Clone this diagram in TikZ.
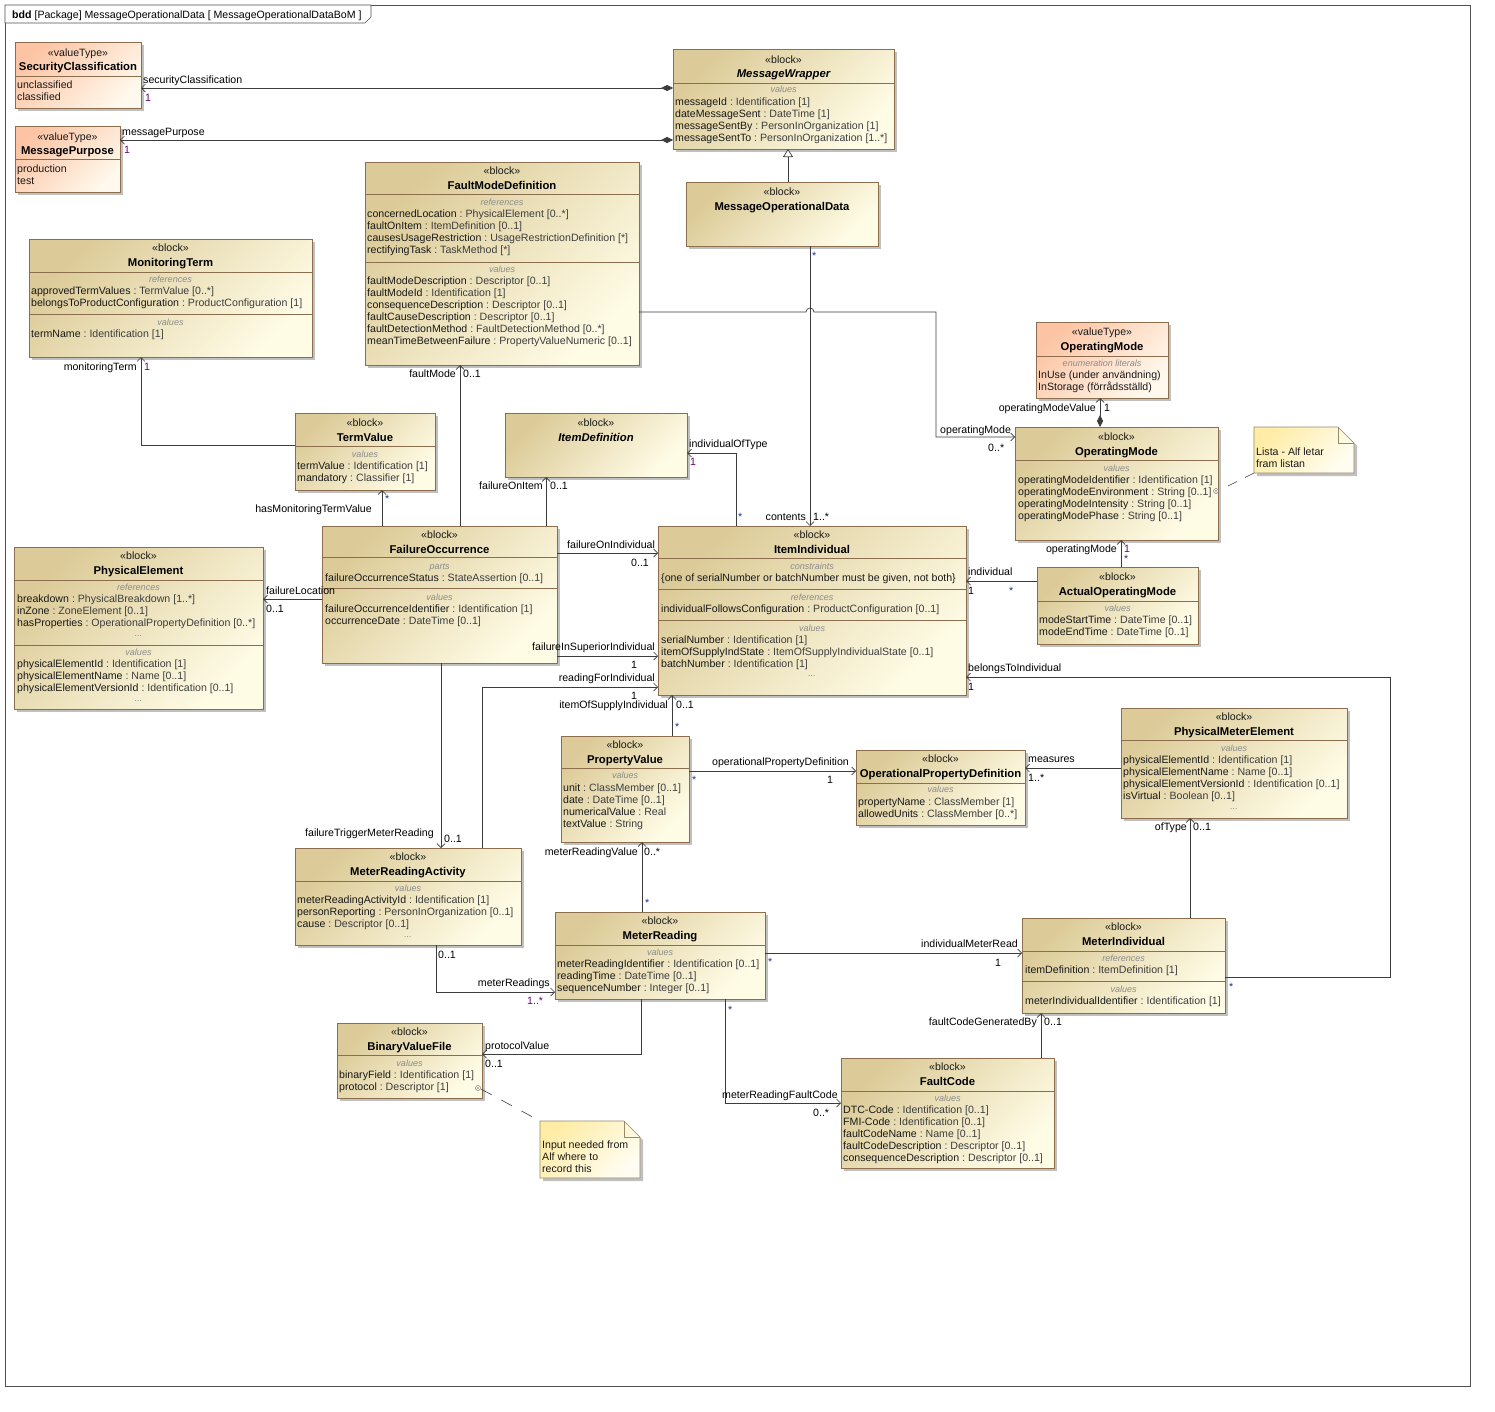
\documentclass[tikz,border=0pt]{standalone}
\usepackage{fontspec}
\setmainfont{Liberation Sans}
\usetikzlibrary{arrows.meta,shadows}
\definecolor{blkA}{RGB}{220,203,152}
\definecolor{blkB}{RGB}{255,252,230}
\definecolor{vtA}{RGB}{252,196,164}
\definecolor{vtB}{RGB}{255,248,236}
\definecolor{nA}{RGB}{255,236,165}
\definecolor{nB}{RGB}{255,253,242}
\definecolor{bordc}{RGB}{140,110,78}
\definecolor{nbord}{RGB}{150,138,105}
\definecolor{shadc}{RGB}{192,192,192}
\definecolor{linec}{RGB}{60,60,60}
\definecolor{namec}{RGB}{25,25,25}
\definecolor{typec}{RGB}{62,62,62}
\definecolor{sectc}{RGB}{140,140,140}
\definecolor{multp}{RGB}{110,0,110}
\definecolor{multb}{RGB}{30,50,140}
\definecolor{framec}{RGB}{80,80,80}
\newcommand\fs{\fontsize{10.6}{12}\selectfont}
\newcommand\fst{\fontsize{11.3}{13}\selectfont\bfseries}
\newcommand\fss{\fontsize{9}{10}\selectfont\itshape}
\tikzset{
 blk/.style={draw=bordc, line width=0.6pt, top color=blkA, bottom color=blkB, shading angle=45, inner sep=0pt, outer sep=0pt, anchor=north west, drop shadow={shadow xshift=3pt, shadow yshift=-3pt, fill=shadc, opacity=1}},
 vtbox/.style={blk, top color=vtA, bottom color=vtB, shading angle=45},
 stereo/.style={anchor=base, inner sep=0pt, font=\fs, text=namec},
 ttl/.style={anchor=base, inner sep=0pt, font=\fst, text=black},
 ttli/.style={ttl, font=\fst\itshape},
 sect/.style={anchor=base, inner sep=0pt, font=\fss, text=sectc},
 attr/.style={anchor=base west, inner sep=0pt, font=\fs, text=namec},
 sepl/.style={draw=bordc, line width=0.6pt},
 lbl/.style={anchor=base west, inner sep=0pt, font=\fs, text=black},
 lblr/.style={lbl, anchor=base east},
 assoc/.style={draw=linec, line width=0.7pt, -{Straight Barb[length=4pt,width=8pt]}},
 comp/.style={draw=linec, line width=0.7pt, {Diamond[length=12pt,width=6pt]}-{Straight Barb[length=4pt,width=8pt]}},
 gen/.style={draw=linec, line width=0.7pt, -{Triangle[length=8pt,width=10pt,fill=white]}},
 notel/.style={draw=linec, line width=0.6pt},
}
\newcommand\attlist[4]{\foreach \xa/\xb [count=\xc] in {#4}{\node[attr] (#1-\xc) at (#2,{#3+4+12*(\xc-1)}) {\xa~\textcolor{typec}{:~\xb}};}}
\begin{document}
\begin{tikzpicture}[x=1pt,y=-1pt]
\fill[white] (0,0) rectangle (1495,1411);
\useasboundingbox (0,0) rectangle (1495,1411);
% frame
\draw[framec, line width=0.6pt] (5,5) rectangle (1470,1386);
\draw[framec, line width=0.6pt, fill=white] (5,5) -- (371,5) -- (371,17) -- (365,23) -- (5,23) -- cycle;
\node[lbl] (hdr) at (12,18) {\textbf{bdd} [Package] MessageOperationalData [ MessageOperationalDataBoM ]};

% SecurityClassification
\node[vtbox, minimum width=126, minimum height=66] (sc) at (15,42) {};
\node[stereo] (sc-s) at (78,56) {«valueType»};
\node[ttl] (sc-t) at (78,70) {SecurityClassification};
\draw[sepl] (15,76) -- (141,76);
\node[attr] (sc-1) at (17,88) {unclassified};
\node[attr] (sc-2) at (17,100) {classified};

% MessagePurpose
\node[vtbox, minimum width=105, minimum height=66] (mp) at (15,126) {};
\node[stereo] (mp-s) at (67.5,140) {«valueType»};
\node[ttl] (mp-t) at (67.5,154) {MessagePurpose};
\draw[sepl] (15,159) -- (120,159);
\node[attr] (mp-1) at (17,172) {production};
\node[attr] (mp-2) at (17,184) {test};

% MessageWrapper
\node[blk, minimum width=221, minimum height=100] (mw) at (673,49) {};
\node[stereo] (mw-s) at (783.5,63) {«block»};
\node[ttli] (mw-t) at (783.5,77) {MessageWrapper};
\draw[sepl] (673,83) -- (894,83);
\node[sect] (mw-l) at (783.5,92) {values};
\attlist{mw}{675}{101}{messageId/Identification [1], dateMessageSent/DateTime [1], messageSentBy/PersonInOrganization [1], messageSentTo/PersonInOrganization [1..*]}

% MessageOperationalData
\node[blk, minimum width=192, minimum height=64] (mod) at (686,182) {};
\node[stereo] (mod-s) at (782,195) {«block»};
\node[ttl] (mod-t) at (782,210) {MessageOperationalData};

% FaultModeDefinition
\node[blk, minimum width=274, minimum height=203] (fmd) at (365,162) {};
\node[stereo] (fmd-s) at (502,174) {«block»};
\node[ttl] (fmd-t) at (502,189) {FaultModeDefinition};
\draw[sepl] (365,194) -- (639,194);
\node[sect] (fmd-l1) at (502,205) {references};
\attlist{fmdr}{367}{213}{concernedLocation/PhysicalElement [0..*], faultOnItem/ItemDefinition [0..1], causesUsageRestriction/UsageRestrictionDefinition [*], rectifyingTask/TaskMethod [*]}
\draw[sepl] (365,262) -- (639,262);
\node[sect] (fmd-l2) at (502,272) {values};
\attlist{fmdv}{367}{280}{faultModeDescription/Descriptor [0..1], faultModeId/Identification [1], consequenceDescription/Descriptor [0..1], faultCauseDescription/Descriptor [0..1], faultDetectionMethod/FaultDetectionMethod [0..*], meanTimeBetweenFailure/PropertyValueNumeric [0..1]}

% MonitoringTerm
\node[blk, minimum width=283, minimum height=118] (mt) at (29,239) {};
\node[stereo] (mt-s) at (170.5,251) {«block»};
\node[ttl] (mt-t) at (170.5,266) {MonitoringTerm};
\draw[sepl] (29,272) -- (312,272);
\node[sect] (mt-l1) at (170.5,282) {references};
\attlist{mtr}{31}{290}{approvedTermValues/TermValue [0..*], belongsToProductConfiguration/ProductConfiguration [1]}
\draw[sepl] (29,314) -- (312,314);
\node[sect] (mt-l2) at (170.5,325) {values};
\attlist{mtv}{31}{333}{termName/Identification [1]}

% TermValue
\node[blk, minimum width=140, minimum height=77] (tv) at (295,413) {};
\node[stereo] (tv-s) at (365,426) {«block»};
\node[ttl] (tv-t) at (365,441) {TermValue};
\draw[sepl] (295,446) -- (435,446);
\node[sect] (tv-l) at (365,457) {values};
\attlist{tv}{297}{465}{termValue/Identification [1], mandatory/Classifier [1]}

% ItemDefinition
\node[blk, minimum width=182, minimum height=64] (idf) at (505,413) {};
\node[stereo] (idf-s) at (596,426) {«block»};
\node[ttli] (idf-t) at (596,441) {ItemDefinition};

% ItemIndividual
\node[blk, minimum width=308, minimum height=169] (ii) at (658,526) {};
\node[stereo] (ii-s) at (812,538) {«block»};
\node[ttl] (ii-t) at (812,553) {ItemIndividual};
\draw[sepl] (658,558) -- (966,558);
\node[sect] (ii-l1) at (812,569) {constraints};
\node[attr] (ii-c) at (661,581) {\{one of serialNumber or batchNumber must be given, not both\}};
\draw[sepl] (658,589) -- (966,589);
\node[sect] (ii-l2) at (812,600) {references};
\attlist{iir}{661}{608}{individualFollowsConfiguration/ProductConfiguration [0..1]}
\draw[sepl] (658,620) -- (966,620);
\node[sect] (ii-l3) at (812,631) {values};
\attlist{iiv}{661}{639}{serialNumber/Identification [1], itemOfSupplyIndState/ItemOfSupplyIndividualState [0..1], batchNumber/Identification [1]}
\node[sect] (ii-d) at (812,676) {...};

% OperatingMode valueType
\node[vtbox, minimum width=132, minimum height=76] (omv) at (1036,322) {};
\node[stereo] (omv-s) at (1102,335) {«valueType»};
\node[ttl] (omv-t) at (1102,350) {OperatingMode};
\draw[sepl] (1036,356) -- (1168,356);
\node[sect] (omv-l) at (1102,366) {enumeration literals};
\node[attr] (omv-1) at (1038,378) {InUse (under användning)};
\node[attr] (omv-2) at (1038,390) {InStorage (förrådsställd)};

% OperatingMode block
\node[blk, minimum width=203, minimum height=113] (omb) at (1015,427) {};
\node[stereo] (omb-s) at (1116.5,440) {«block»};
\node[ttl] (omb-t) at (1116.5,455) {OperatingMode};
\draw[sepl] (1015,460) -- (1218,460);
\node[sect] (omb-l) at (1116.5,471) {values};
\attlist{omb}{1018}{479}{operatingModeIdentifier/Identification [1], operatingModeEnvironment/String [0..1], operatingModeIntensity/String [0..1], operatingModePhase/String [0..1]}
\draw[gray, line width=0.5pt] (1216,491) circle (2.5pt);
\fill[gray] (1216,491) circle (0.8pt);

% ActualOperatingMode
\node[blk, minimum width=161, minimum height=77] (aom) at (1037,567) {};
\node[stereo] (aom-s) at (1117.5,580) {«block»};
\node[ttl] (aom-t) at (1117.5,595) {ActualOperatingMode};
\draw[sepl] (1037,601) -- (1198,601);
\node[sect] (aom-l) at (1117.5,611) {values};
\attlist{aom}{1039}{619}{modeStartTime/DateTime [0..1], modeEndTime/DateTime [0..1]}

% PhysicalElement
\node[blk, minimum width=249, minimum height=162] (pe) at (14,547) {};
\node[stereo] (pe-s) at (138.5,559) {«block»};
\node[ttl] (pe-t) at (138.5,574) {PhysicalElement};
\draw[sepl] (14,580) -- (263,580);
\node[sect] (pe-l1) at (138.5,590) {references};
\attlist{per}{17}{598}{breakdown/PhysicalBreakdown [1..*], inZone/ZoneElement [0..1], hasProperties/OperationalPropertyDefinition [0..*]}
\node[sect] (pe-d1) at (138.5,636) {...};
\draw[sepl] (14,645) -- (263,645);
\node[sect] (pe-l2) at (138.5,655) {values};
\attlist{pev}{17}{663}{physicalElementId/Identification [1], physicalElementName/Name [0..1], physicalElementVersionId/Identification [0..1]}
\node[sect] (pe-d2) at (138.5,701) {...};

% FailureOccurrence
\node[blk, minimum width=235, minimum height=137] (fo) at (322,526) {};
\node[stereo] (fo-s) at (439.5,538) {«block»};
\node[ttl] (fo-t) at (439.5,553) {FailureOccurrence};
\draw[sepl] (322,557) -- (557,557);
\node[sect] (fo-l1) at (439.5,569) {parts};
\attlist{fop}{325}{577}{failureOccurrenceStatus/StateAssertion [0..1]}
\draw[sepl] (322,588) -- (557,588);
\node[sect] (fo-l2) at (439.5,600) {values};
\attlist{fov}{325}{608}{failureOccurrenceIdentifier/Identification [1], occurrenceDate/DateTime [0..1]}

% PropertyValue
\node[blk, minimum width=128, minimum height=106] (pv) at (561,736) {};
\node[stereo] (pv-s) at (625,748) {«block»};
\node[ttl] (pv-t) at (625,763) {PropertyValue};
\draw[sepl] (561,768) -- (689,768);
\node[sect] (pv-l) at (625,778) {values};
\attlist{pv}{563}{787}{unit/ClassMember [0..1], date/DateTime [0..1], numericalValue/Real, textValue/String}

% OperationalPropertyDefinition
\node[blk, minimum width=169, minimum height=75] (opd) at (856,750) {};
\node[stereo] (opd-s) at (940.5,762) {«block»};
\node[ttl] (opd-t) at (940.5,777) {OperationalPropertyDefinition};
\draw[sepl] (856,783) -- (1025,783);
\node[sect] (opd-l) at (940.5,792) {values};
\attlist{opd}{858}{801}{propertyName/ClassMember [1], allowedUnits/ClassMember [0..*]}

% PhysicalMeterElement
\node[blk, minimum width=226, minimum height=110] (pme) at (1121,708) {};
\node[stereo] (pme-s) at (1234,720) {«block»};
\node[ttl] (pme-t) at (1234,735) {PhysicalMeterElement};
\draw[sepl] (1121,740) -- (1347,740);
\node[sect] (pme-l) at (1234,751) {values};
\attlist{pme}{1123}{759}{physicalElementId/Identification [1], physicalElementName/Name [0..1], physicalElementVersionId/Identification [0..1], isVirtual/Boolean [0..1]}
\node[sect] (pme-d) at (1234,809) {...};

% MeterReadingActivity
\node[blk, minimum width=226, minimum height=97] (mra) at (295,848) {};
\node[stereo] (mra-s) at (408,860) {«block»};
\node[ttl] (mra-t) at (408,875) {MeterReadingActivity};
\draw[sepl] (295,881) -- (521,881);
\node[sect] (mra-l) at (408,891) {values};
\attlist{mra}{297}{899}{meterReadingActivityId/Identification [1], personReporting/PersonInOrganization [0..1], cause/Descriptor [0..1]}
\node[sect] (mra-d) at (408,937) {...};

% MeterReading
\node[blk, minimum width=210, minimum height=87] (mr) at (555,912) {};
\node[stereo] (mr-s) at (660,924) {«block»};
\node[ttl] (mr-t) at (660,939) {MeterReading};
\draw[sepl] (555,945) -- (765,945);
\node[sect] (mr-l) at (660,955) {values};
\attlist{mr}{557}{963}{meterReadingIdentifier/Identification [0..1], readingTime/DateTime [0..1], sequenceNumber/Integer [0..1]}

% MeterIndividual
\node[blk, minimum width=203, minimum height=95] (mi) at (1022,918) {};
\node[stereo] (mi-s) at (1123.5,930) {«block»};
\node[ttl] (mi-t) at (1123.5,945) {MeterIndividual};
\draw[sepl] (1022,951) -- (1225,951);
\node[sect] (mi-l1) at (1123.5,961) {references};
\attlist{mir}{1025}{969}{itemDefinition/ItemDefinition [1]}
\draw[sepl] (1022,981) -- (1225,981);
\node[sect] (mi-l2) at (1123.5,992) {values};
\attlist{miv}{1025}{1000}{meterIndividualIdentifier/Identification [1]}

% FaultCode
\node[blk, minimum width=213, minimum height=110] (fc) at (841,1058) {};
\node[stereo] (fc-s) at (947.5,1070) {«block»};
\node[ttl] (fc-t) at (947.5,1085) {FaultCode};
\draw[sepl] (841,1091) -- (1054,1091);
\node[sect] (fc-l) at (947.5,1101) {values};
\attlist{fc}{843}{1109}{DTC-Code/Identification [0..1], FMI-Code/Identification [0..1], faultCodeName/Name [0..1], faultCodeDescription/Descriptor [0..1], consequenceDescription/Descriptor [0..1]}

% BinaryValueFile
\node[blk, minimum width=145, minimum height=75] (bvf) at (337,1023) {};
\node[stereo] (bvf-s) at (409.5,1035) {«block»};
\node[ttl] (bvf-t) at (409.5,1050) {BinaryValueFile};
\draw[sepl] (337,1055) -- (482,1055);
\node[sect] (bvf-l) at (409.5,1066) {values};
\attlist{bvf}{339}{1074}{binaryField/Identification [1], protocol/Descriptor [1]}
\draw[gray, line width=0.5pt] (478,1088) circle (2.5pt);
\fill[gray] (478,1088) circle (0.8pt);

% Note 1
\fill[shadc] (1257,430) -- (1341,430) -- (1357,446) -- (1357,476) -- (1257,476) -- cycle;
\shadedraw[draw=nbord, line width=0.6pt, top color=nA, bottom color=nB, shading angle=45] (1254,427) -- (1338,427) -- (1354,443) -- (1354,473) -- (1254,473) -- cycle;
\draw[nbord, line width=0.6pt] (1338,427) -- (1338,443) -- (1354,443);
\node[inner sep=0pt, outer sep=0pt, minimum width=100, minimum height=46, anchor=north west] (n1) at (1254,427) {};
\node[attr] (n1-1) at (1256,455) {Lista - Alf letar};
\node[attr] (n1-2) at (1256,467) {fram listan};

% Note 2
\fill[shadc] (543,1124) -- (627,1124) -- (643,1140) -- (643,1181) -- (543,1181) -- cycle;
\shadedraw[draw=nbord, line width=0.6pt, top color=nA, bottom color=nB, shading angle=45] (540,1121) -- (624,1121) -- (640,1137) -- (640,1178) -- (540,1178) -- cycle;
\draw[nbord, line width=0.6pt] (624,1121) -- (624,1137) -- (640,1137);
\node[inner sep=0pt, outer sep=0pt, minimum width=100, minimum height=57, anchor=north west] (n2) at (540,1121) {};
\node[attr] (n2-1) at (542,1148) {Input needed from};
\node[attr] (n2-2) at (542,1160) {Alf where to};
\node[attr] (n2-3) at (542,1172) {record this};

% note links
\coordinate (omanc) at (1228,486);
\draw[notel, dash pattern=on 10pt off 9pt] (omanc) -- (n1.south west);
\coordinate (bvfanc) at (481,1089);
\draw[notel, dash pattern=on 12pt off 11pt] (bvfanc) -- (n2.north west);

% connectors
\draw[comp] ([yshift=-39pt]mw.north west) -- ([yshift=-46pt]sc.north east);
\draw[comp] ([yshift=-91pt]mw.north west) -- ([yshift=-14pt]mp.north east);
\draw[gen] ([xshift=102pt]mod.north west) -- ([xshift=115pt]mw.south west);
\draw[assoc] ([xshift=124pt]mod.south west) -- ([xshift=152pt]ii.north west);
\draw[assoc] ([yshift=-150pt]fmd.north east) -- ++(167,0) arc[start angle=180,end angle=0,radius=4pt] -- ++(122,0) |- ([yshift=-10pt]omb.north west);
\draw[comp] ([xshift=85pt]omb.north west) -- ([xshift=64pt]omv.south west);
\draw[assoc] ([xshift=84pt]aom.north west) -- ([xshift=106pt]omb.south west);
\draw[assoc] ([yshift=-14pt]aom.north west) -- ([yshift=-55pt]ii.north east);
\draw[assoc] ([yshift=-59pt]mi.north east) -- ++(165,0) |- ([yshift=-151pt]ii.north east);
\draw[assoc] ([yshift=-32pt]tv.north west) -| ([xshift=112pt]mt.south west);
\draw[assoc] ([xshift=60pt]fo.north west) -- ([xshift=87pt]tv.south west);
\draw[assoc] ([xshift=138pt]fo.north west) -- ([xshift=95pt]fmd.south west);
\draw[assoc] ([xshift=224pt]fo.north west) -- ([xshift=41pt]idf.south west);
\draw[assoc] ([xshift=78pt]ii.north west) |- ([yshift=-40pt]idf.north east);
\draw[assoc] ([yshift=-27pt]fo.north east) -- ([yshift=-27pt]ii.north west);
\draw[assoc] ([yshift=-73pt]fo.north west) -- ([yshift=-52pt]pe.north east);
\draw[assoc] ([yshift=-130pt]fo.north east) -- ([yshift=-130pt]ii.north west);
\draw[assoc] ([xshift=187pt]mra.north west) |- ([yshift=-161pt]ii.north west);
\draw[assoc] ([xshift=119pt]fo.south west) -- ([xshift=146pt]mra.north west);
\draw[assoc] ([xshift=111pt]pv.north west) -- ([xshift=14pt]ii.south west);
\draw[assoc] ([yshift=-35pt]pv.north east) -- ([yshift=-21pt]opd.north west);
\draw[assoc] ([yshift=-60pt]pme.north west) -- ([yshift=-18pt]opd.north east);
\draw[assoc] ([xshift=87pt]mr.north west) -- ([xshift=81pt]pv.south west);
\draw[assoc] ([xshift=141pt]mra.south west) |- ([yshift=-80pt]mr.north west);
\draw[assoc] ([yshift=-41pt]mr.north east) -- ([yshift=-35pt]mi.north west);
\draw[assoc] ([xshift=168pt]mi.north west) -- ([xshift=69pt]pme.south west);
\draw[assoc] ([xshift=200pt]fc.north west) -- ([xshift=19pt]mi.south west);
\draw[assoc] ([xshift=170pt]mr.south west) |- ([yshift=-45pt]fc.north west);
\draw[assoc] ([xshift=86pt]mr.south west) |- ([yshift=-31pt]bvf.north east);

% labels
\node[lbl] (t-sc) at (143,83) {securityClassification};
\node[lbl,text=multp] (m-sc) at (145,101) {1};
\node[lbl] (t-mp) at (122,135) {messagePurpose};
\node[lbl,text=multp] (m-mp) at (124,153) {1};
\node[lbl,text=multb] (m-mod) at (812,259) {*};
\node[lblr] (t-cont) at (806,520) {contents};
\node[lbl] (m-cont) at (813,520) {1..*};
\node[lbl] (t-om1) at (940,433) {operatingMode};
\node[lbl] (m-om1) at (988,451) {0..*};
\node[lblr] (t-omv) at (1096,411) {operatingModeValue};
\node[lbl] (m-omv) at (1104,411) {1};
\node[lblr] (t-om2) at (1117,552) {operatingMode};
\node[lbl,text=multp] (m-om2) at (1124,552) {1};
\node[lbl,text=multb] (m-om2b) at (1124,562) {*};
\node[lbl] (t-ind) at (968,575) {individual};
\node[lbl] (m-ind) at (968,594) {1};
\node[lbl,text=multb] (m-indb) at (1009,594) {*};
\node[lbl] (t-bti) at (968,671) {belongsToIndividual};
\node[lbl] (m-bti) at (968,690) {1};
\node[lbl,text=multb] (m-btib) at (1229,990) {*};
\node[lblr] (t-mt) at (137,370) {monitoringTerm};
\node[lbl,text=multp] (m-mt) at (144,370) {1};
\node[lblr] (t-hmt) at (372,512) {hasMonitoringTermValue};
\node[lbl,text=multb] (m-hmt) at (385,502) {*};
\node[lblr] (t-fm) at (456,377) {faultMode};
\node[lbl] (m-fm) at (463,377) {0..1};
\node[lblr] (t-foi) at (543,489) {failureOnItem};
\node[lbl] (m-foi) at (550,489) {0..1};
\node[lbl] (t-iot) at (689,447) {individualOfType};
\node[lbl,text=multp] (m-iot) at (690,465) {1};
\node[lbl,text=multb] (m-iotb) at (738,520) {*};
\node[lbl] (t-fon) at (567,548) {failureOnIndividual};
\node[lbl] (m-fon) at (631,566) {0..1};
\node[lbl] (t-fl) at (266,594) {failureLocation};
\node[lbl] (m-fl) at (266,612) {0..1};
\node[lblr] (t-fsi) at (655,650) {failureInSuperiorIndividual};
\node[lbl] (m-fsi) at (631,668) {1};
\node[lblr] (t-rfi) at (655,681) {readingForIndividual};
\node[lbl] (m-rfi) at (631,699) {1};
\node[lblr] (t-osi) at (668,708) {itemOfSupplyIndividual};
\node[lbl] (m-osi) at (676,708) {0..1};
\node[lbl,text=multb] (m-osib) at (675,730) {*};
\node[lblr] (t-ftm) at (434,836) {failureTriggerMeterReading};
\node[lbl] (m-ftm) at (444,842) {0..1};
\node[lbl] (t-opd) at (712,765) {operationalPropertyDefinition};
\node[lbl] (m-opd) at (827,783) {1};
\node[lbl,text=multb] (m-opdb) at (692,783) {*};
\node[lbl] (t-mea) at (1028,762) {measures};
\node[lbl] (m-mea) at (1028,781) {1..*};
\node[lblr] (t-mrv) at (638,855) {meterReadingValue};
\node[lbl] (m-mrv) at (644,855) {0..*};
\node[lbl,text=multb] (m-mrvb) at (645,906) {*};
\node[lbl] (m-mrs0) at (438,958) {0..1};
\node[lblr] (t-mrs) at (550,986) {meterReadings};
\node[lbl,text=multp] (m-mrs) at (527,1004) {1..*};
\node[lblr] (t-imr) at (1018,947) {individualMeterRead};
\node[lbl] (m-imr) at (995,966) {1};
\node[lbl,text=multb] (m-imrb) at (768,965) {*};
\node[lblr] (t-oft) at (1187,830) {ofType};
\node[lbl] (m-oft) at (1193,830) {0..1};
\node[lblr] (t-fcg) at (1037,1025) {faultCodeGeneratedBy};
\node[lbl] (m-fcg) at (1044,1025) {0..1};
\node[lbl,text=multb] (m-mrfb) at (728,1013) {*};
\node[lbl] (t-mrf) at (722,1098) {meterReadingFaultCode};
\node[lbl] (m-mrf) at (813,1116) {0..*};
\node[lbl] (t-pv) at (485,1049) {protocolValue};
\node[lbl] (m-pv) at (485,1067) {0..1};
\end{tikzpicture}
\end{document}
